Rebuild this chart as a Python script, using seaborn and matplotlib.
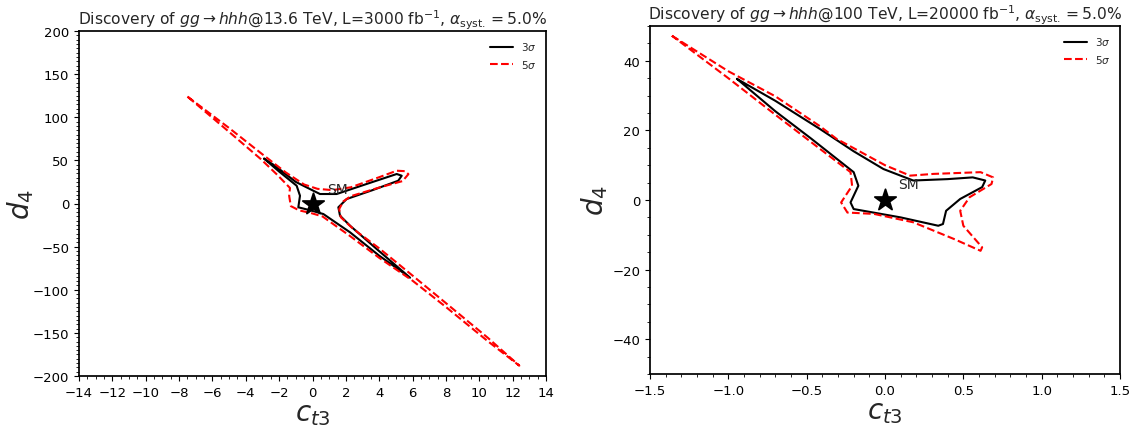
import numpy as np
import pandas as pd
import seaborn as sns
import matplotlib

matplotlib.use("agg")
import matplotlib.pyplot as plt
from matplotlib.ticker import MultipleLocator, AutoMinorLocator

# contour outlines (c_t3, d_4)
# 13.6 TeV, 3 sigma
ct3_lhc_3s = [-2.9, -2.25, -1.0, 0.05, 0.45, 1.45, 3.3, 5.05, 5.35, 5.14, 3.6, 2.05, 1.55,
              1.65, 2.25, 3.85, 5.85, 4.0, 2.25, 0.65, -0.05, -0.85, -0.75, -0.95, -2.0, -2.9]
d4_lhc_3s = [52, 43.8, 25, 14.8, 11, 11, 23, 34.2, 32.2, 26.4, 15.5, 5.2, -4.4,
             -14.1, -25.7, -52.8, -86, -60.5, -33.4, -12.2, -8.3, -4.4, 9, 20.6, 37, 52]
# 13.6 TeV, 5 sigma
ct3_lhc_5s = [-7.5, -5.0, -3.0, -1.6, -0.5, 0.3, 1.2, 2.3, 4.0, 5.05, 5.55, 5.75, 5.4,
              4.0, 2.3, 1.85, 1.6, 1.7, 2.45, 4.0, 5.9, 8.0, 10.5, 12.4, 10.5, 8.0,
              6.0, 4.0, 2.2, 0.6, -0.1, -0.8, -1.3, -1.4, -1.35, -2.1, -3.1, -5.0, -7.5]
d4_lhc_5s = [124, 87.5, 57, 36, 22, 17, 15.5, 18.8, 30.5, 38, 37.5, 34, 26,
             18.5, 8.5, 2.5, -6.4, -16, -29.6, -52, -82, -115.5, -155.5, -188, -159.5, -120,
             -89.5, -63, -37, -15, -11, -8, -3, 9, 18, 33, 51.5, 83, 124]

# 100 TeV, 3 sigma
ct3_fcc_3s = [-0.945, -0.7, -0.415, -0.2, -0.01, 0.18, 0.4, 0.56, 0.64, 0.62, 0.48,
              0.39, 0.37, 0.34, 0.1, -0.2, -0.22, -0.17, -0.2, -0.47, -0.7, -0.945]
d4_fcc_3s = [34.8, 28.5, 20.4, 14.0, 8.9, 5.6, 6.0, 6.5, 5.6, 3.7, 0.3,
             -3.1, -6.9, -7.4, -5.0, -2.6, -0.7, 4.1, 8.0, 17.6, 25.5, 34.8]
# 100 TeV, 5 sigma
ct3_fcc_5s = [-1.36, -1.0, -0.7, -0.415, -0.31, 0.0, 0.16, 0.31, 0.61, 0.69, 0.68, 0.54,
              0.48, 0.5, 0.62, 0.61, 0.44, 0.18, -0.07, -0.24, -0.28, -0.21, -0.22,
              -0.43, -0.7, -1.0, -1.36]
d4_fcc_5s = [47.2, 37.0, 29.8, 21.2, 17.6, 10.0, 7.0, 7.5, 8.0, 6.5, 4.6, 0.8,
             -3.1, -7.4, -13.6, -14.6, -11.2, -6.4, -4.0, -3.6, -0.7, 4.1, 8.0,
             15.2, 24.5, 35.0, 47.2]

sm_point = (0.0, 0.0)

titles = [
    r"Discovery of $gg\rightarrow hhh$@13.6 TeV, L=3000 fb$^{-1}$, $\alpha_{\rm syst.}=5.0\%$",
    r"Discovery of $gg\rightarrow hhh$@100 TeV, L=20000 fb$^{-1}$, $\alpha_{\rm syst.}=5.0\%$",
]

sns.set_theme(style="ticks")
plt.rcParams["font.family"] = ["DejaVu Sans"]
plt.rcParams["mathtext.fontset"] = "dejavusans"
plt.rcParams["axes.edgecolor"] = "black"
plt.rcParams["xtick.color"] = "black"
plt.rcParams["ytick.color"] = "black"

fig = plt.figure(figsize=(11.34, 4.27), dpi=100)
ax1 = fig.add_axes([79 / 1134, 50 / 427, 467 / 1134, 345 / 427])
ax2 = fig.add_axes([650 / 1134, 52 / 427, 470 / 1134, 348 / 427])

panels = [
    (ax1, ct3_lhc_3s, d4_lhc_3s, ct3_lhc_5s, d4_lhc_5s),
    (ax2, ct3_fcc_3s, d4_fcc_3s, ct3_fcc_5s, d4_fcc_5s),
]

for i, (ax, x3, y3, x5, y5) in enumerate(panels):
    sns.lineplot(x=x3, y=y3, sort=False, estimator=None, color="black",
                 lw=1.5, label=r"3$\sigma$", ax=ax)
    sns.lineplot(x=x5, y=y5, sort=False, estimator=None, color="red",
                 lw=1.5, ls="--", label=r"5$\sigma$", ax=ax)
    sns.scatterplot(x=[sm_point[0]], y=[sm_point[1]], marker="*", s=260,
                    color="black", edgecolor="black", ax=ax, zorder=5)
    ax.set_title(titles[i], fontsize=11.2, pad=4)
    ax.set_xlabel(r"$c_{t3}$", fontsize=20, labelpad=0)
    ax.tick_params(labelsize=9.5, length=3.5, width=0.8)
    ax.tick_params(which="minor", length=2, width=0.6)
    ax.legend(loc="upper right", frameon=False, fontsize=7.5, handlelength=2.2)

ax1.set_ylabel(r"$d_4$", fontsize=20, labelpad=-2)
ax2.set_ylabel(r"$d_4$", fontsize=20, labelpad=2)

ax1.set_xlim(-14, 14)
ax1.set_ylim(-200, 200)
ax1.xaxis.set_major_locator(MultipleLocator(2))
ax1.xaxis.set_minor_locator(MultipleLocator(0.5))
ax1.yaxis.set_major_locator(MultipleLocator(50))
ax1.yaxis.set_minor_locator(MultipleLocator(5))
ax1.text(0.9, 17, "SM", fontsize=10, va="center")

ax2.set_xlim(-1.5, 1.5)
ax2.set_ylim(-50, 50)
ax2.xaxis.set_major_locator(MultipleLocator(0.5))
ax2.xaxis.set_minor_locator(AutoMinorLocator())
ax2.yaxis.set_major_locator(MultipleLocator(20))
ax2.yaxis.set_minor_locator(MultipleLocator(5))
ax2.text(0.085, 4.5, "SM", fontsize=10, va="center")

fig.savefig("out.png", dpi=100)
